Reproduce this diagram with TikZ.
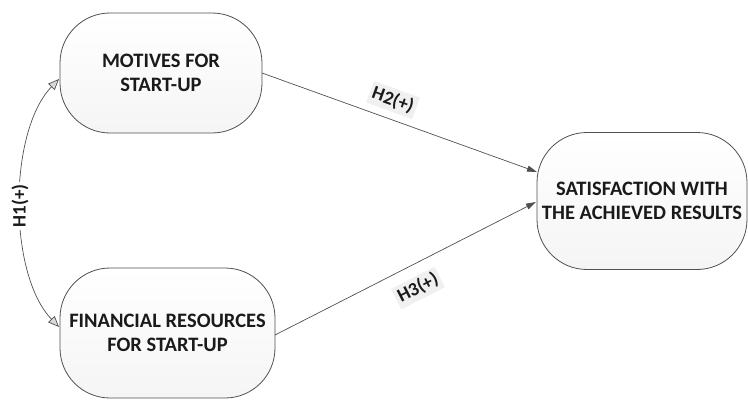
\documentclass[tikz,border=0pt]{standalone}
\usepackage{fontspec}
\setmainfont{Carlito}
\usetikzlibrary{arrows.meta}
\definecolor{edge}{HTML}{505050}
\definecolor{txt}{HTML}{1A1A1A}
\tikzset{
  box/.style={draw=edge, line width=0.8pt, rounded corners=50pt, top color=white, bottom color=gray!8,
    align=center, font=\bfseries\fontsize{20.5}{24}\selectfont, text=txt, inner sep=0pt},
  conn/.style={draw=edge, line width=0.7pt, -{Triangle[length=10pt,width=6pt,fill=edge]}},
  corr/.style={draw=edge, line width=0.7pt,
    {Triangle[length=11pt,width=9pt,fill=gray!30]}-{Triangle[length=11pt,width=9pt,fill=gray!30]}},
  hlabel/.style={font=\bfseries\fontsize{19}{22}\selectfont, text=txt, inner sep=3pt}
}
\begin{document}
\begin{tikzpicture}[x=1pt,y=-1pt]
\useasboundingbox (0,0) rectangle (748,400);
\node[box, minimum width=202pt, minimum height=120pt] (mot) at (161,73) {MOTIVES FOR\\START-UP};
\node[box, minimum width=215pt, minimum height=130pt] (fin) at (167.5,333) {FINANCIAL RESOURCES\\FOR START-UP};
\node[box, minimum width=210pt, minimum height=137pt] (sat) at (642,201) {SATISFACTION WITH\\THE ACHIEVED RESULTS};
\coordinate (s2) at (537,172);
\coordinate (s3) at (536,202);
\coordinate (m2) at (262,73);
\coordinate (f3) at (275,335);
\coordinate (h1a) at (59,79);
\coordinate (h1b) at (59,327);
\draw[conn] (m2) -- (s2);
\draw[conn] (f3) -- (s3);
\draw[corr] (h1a) .. controls (8,132) and (8,274) .. (h1b);
\node[hlabel, fill=white, rotate=90] (l1) at (20,206) {H1(+)};
\node[hlabel, fill=gray!12, rotate=-20] (l2) at (393,100) {H2(+)};
\node[hlabel, fill=gray!12, rotate=27] (l3) at (418,288) {H3(+)};
\end{tikzpicture}
\end{document}
